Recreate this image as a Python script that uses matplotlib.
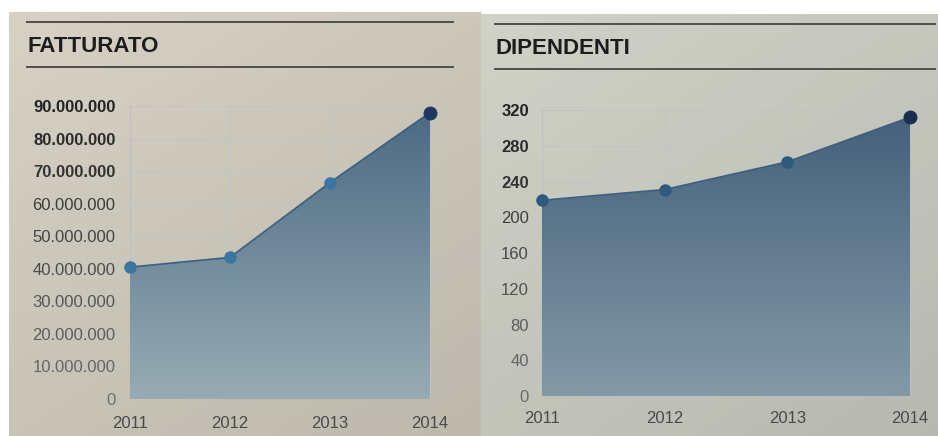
import numpy as np
import matplotlib
matplotlib.use("Agg")
import matplotlib.pyplot as plt
from matplotlib.colors import LinearSegmentedColormap
from matplotlib.ticker import FuncFormatter

anni = [2011, 2012, 2013, 2014]
fatturato = [40500000, 43500000, 66500000, 88000000]
dipendenti = [219, 231, 262, 312]
tick_fatturato = [0, 10000000, 20000000, 30000000, 40000000, 50000000, 60000000, 70000000, 80000000, 90000000]
tick_dipendenti = [0, 40, 80, 120, 160, 200, 240, 280, 320]

W, H = 938, 436
fig = plt.figure(figsize=(W / 100, H / 100), dpi=100)
fig.patch.set_facecolor("white")
plt.rcParams["font.family"] = ["Liberation Sans", "DejaVu Sans"]


def px_axes(x0, y0, x1, y1, **kw):
    # rettangolo in pixel (origine in alto a sinistra) -> coordinate figura
    return fig.add_axes([x0 / W, 1 - y1 / H, (x1 - x0) / W, (y1 - y0) / H], **kw)


def pannello(box, bg, titolo, riga1, riga2, tx0, tx1, ty):
    bg_ax = px_axes(*box)
    bg_ax.set_xlim(box[0], box[2])
    bg_ax.set_ylim(box[3], box[1])
    bg_ax.set_axis_off()
    bg_ax.add_patch(plt.Rectangle((box[0], box[1]), box[2] - box[0], box[3] - box[1],
                                  facecolor=bg, edgecolor="none"))
    # ombra leggera verso il basso e verso destra
    gx = np.linspace(0, 1, 200)
    gy = np.linspace(0, 1, 100)
    a = 0.07 * np.outer(gy, np.ones(200)) + 0.05 * np.outer(np.ones(100), gx)
    rgba = np.zeros((100, 200, 4))
    rgba[..., 3] = a
    bg_ax.imshow(rgba, extent=(box[0], box[2], box[3], box[1]), aspect="auto", zorder=1)
    for y in (riga1, riga2):
        bg_ax.plot([tx0, tx1], [y, y], color="#4f4f4a", lw=1.4, zorder=2)
    bg_ax.text(tx0, ty, titolo, fontsize=16, fontweight="bold", color="#1c1c1c",
               va="center", ha="left", zorder=3)


def grafico(box, xs, ys, ticks, fmt, xlim, top, c_top, c_bot, c_pt, c_last, ypad, xpad):
    ax = px_axes(*box)
    ax.set_facecolor("none")
    ax.set_xlim(*xlim)
    ax.set_ylim(0, top)
    for s in ax.spines.values():
        s.set_visible(False)
    ax.set_xticks(xs)
    ax.set_yticks(ticks)
    ax.yaxis.set_major_formatter(FuncFormatter(fmt))
    ax.tick_params(length=0, labelsize=12)
    ax.tick_params(axis="y", pad=ypad)
    ax.tick_params(axis="x", pad=xpad)
    ax.set_axisbelow(True)
    ax.grid(True, color="#c4c1c6", lw=0.6, zorder=0)
    ax.axvline(xs[0], color="#bab7be", lw=0.8, zorder=0)

    n = len(ticks)
    for i, lab in enumerate(ax.get_yticklabels()):
        v = int(35 + 75 * (n - 1 - i) / (n - 1))
        lab.set_color("#%02x%02x%02x" % (v, v, v))
        if i >= n - 3:
            lab.set_fontweight("bold")
    for lab in ax.get_xticklabels():
        lab.set_color("#4a4a4a")

    poly = ax.fill_between(xs, ys, 0, facecolor="none", edgecolor="none")
    cmap = LinearSegmentedColormap.from_list("sfumatura", [c_bot, c_top])
    grad = np.linspace(0, 1, 256).reshape(-1, 1)
    img = ax.imshow(grad, extent=(xlim[0], xlim[1], 0, top), origin="lower", cmap=cmap,
                    aspect="auto", zorder=2)
    img.set_clip_path(poly.get_paths()[0], transform=ax.transData)
    ax.plot(xs, ys, color="#3c5f80", lw=1.2, zorder=3)
    ax.plot(xs[:-1], ys[:-1], "o", color=c_pt, ms=8, zorder=4, clip_on=False)
    ax.plot(xs[-1:], ys[-1:], "o", color=c_last, ms=9, zorder=4, clip_on=False)
    return ax


pannello((9, 12, 481, 436), "#d6d1c4", "FATTURATO", 22, 67, 27, 453, 46)
pannello((481, 14, 938, 436), "#d0d2c8", "DIPENDENTI", 24, 69, 495, 935, 48)

grafico((128, 106, 432, 399), anni, fatturato, tick_fatturato,
        lambda v, p: f"{int(v):,}".replace(",", "."),
        (2010.98, 2014.02), 90000000, "#4a6983", "#98abb3", "#3a76a0", "#1e3760", 9, 12)
grafico((540, 110, 912, 396), anni, dipendenti, tick_dipendenti,
        lambda v, p: f"{int(v)}",
        (2010.984, 2014.016), 320, "#43607a", "#8399a6", "#2e5a7e", "#1b2f52", 8, 11)

fig.savefig("out.png", dpi=100, facecolor=fig.get_facecolor())
